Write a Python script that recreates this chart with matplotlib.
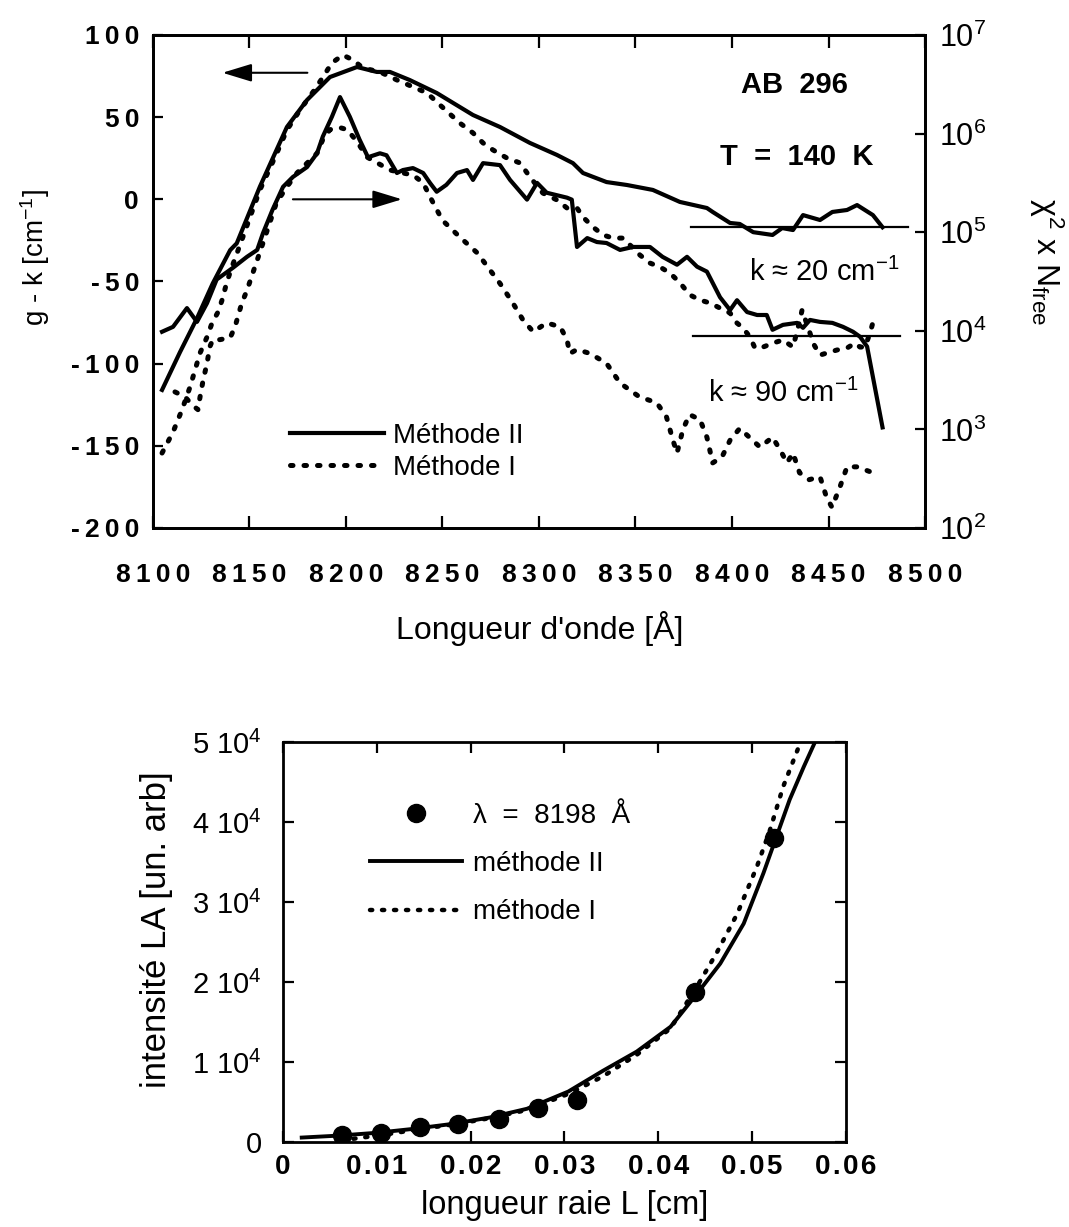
import numpy as np
import matplotlib
matplotlib.use('Agg')
import matplotlib.pyplot as plt
from matplotlib.lines import Line2D
from matplotlib.ticker import NullLocator

plt.rcParams['font.family'] = ['Liberation Sans', 'DejaVu Sans']
plt.rcParams['mathtext.fontset'] = 'custom'
plt.rcParams['mathtext.rm'] = 'Liberation Sans'
plt.rcParams['mathtext.it'] = 'Liberation Sans:italic'
plt.rcParams['mathtext.bf'] = 'Liberation Sans:bold'
plt.rcParams['mathtext.default'] = 'regular'

# %% Data, top panel: g-k (left axis) and chi2 x Nfree (right axis, log) vs wavelength
# g - k, methode II (solid)
gk2_wl = [8104.7, 8114.0, 8122.8, 8131.0, 8140.0, 8143.4, 8155.4, 8169.4, 8179.8, 8191.7, 8205.7,
          8216.0, 8222.8, 8233.0, 8247.0, 8265.8, 8279.8, 8295.3, 8309.3, 8317.6, 8322.8, 8335.0,
          8345.6, 8359.0, 8373.0, 8387.0, 8390.0, 8399.0, 8404.0, 8411.0, 8421.0, 8426.0, 8431.6,
          8436.8, 8445.6, 8452.0, 8459.6, 8464.8, 8473.0, 8478.0]
gk2_val = [-116, -93, -72.4, -51.1, -30.9, -26.8, 7.7, 44, 60.4, 74.4, 80.5,
           77.5, 77.5, 72.6, 64.7, 51.3, 44, 34.3, 27, 22, 16, 10.5,
           8.7, 5.7, -1.6, -5.3, -7.7, -14.4, -15, -20, -21.7, -17.5, -18.7,
           -9.6, -12.6, -7.7, -6.5, -3.5, -9.6, -17]

# g - k, methode I (dotted)
gk1_wl = [8104.7, 8110.4, 8115.0, 8119.2, 8124.4, 8128.0, 8130.6, 8133.7, 8135.8, 8138.3, 8140.9,
          8146.6, 8150.3, 8155.4, 8164.2, 8169.4, 8176.2, 8182.9, 8188.1, 8192.7, 8198.4, 8203.6,
          8208.8, 8217.6, 8226.4, 8234.7, 8242.0, 8248.7, 8259.0, 8265.8, 8271.0, 8276.2, 8283.4,
          8290.2, 8295.3, 8302.0, 8309.3, 8314.5, 8319.7, 8322.8, 8328.0, 8333.2, 8338.3, 8343.5,
          8348.7, 8352.3, 8357.5, 8362.7, 8367.9, 8373.1, 8378.2, 8383.4, 8388.6, 8393.8, 8399.0,
          8402.6, 8405.7, 8409.3, 8411.9, 8416.1, 8421.2, 8426.4, 8431.6, 8435.2, 8436.3, 8440.4,
          8442.0, 8445.6, 8449.2, 8454.4, 8459.6, 8463.7, 8466.3, 8468.9, 8471.5, 8474.1]
gk1_val = [-154.4, -141.6, -128.2, -114.2, -93.5, -83.8, -75.3, -68.6, -61.3, -50.3, -41.2,
           -22.9, -10.8, 5.7, 28.2, 42.2, 54.4, 65.3, 74.4, 83.0, 87.8, 84.8,
           79.9, 77.5, 72.6, 68.4, 64.7, 57.4, 46.4, 40.4, 34.3, 30.0, 25.1,
           22.1, 13.6, 3.8, -0.4, -5.3, -5.3, -10.8, -16.9, -21.7, -23.6, -23.6,
           -29.6, -33.9, -38.8, -41.2, -44.9, -50.9, -58.2, -61.3, -63.1, -66.2, -69.2,
           -75.3, -78.3, -83.8, -90.5, -89.9, -87.5, -85.6, -89.9, -73.5, -67.4, -81.4,
           -87.5, -94.8, -93.5, -91.7, -90.5, -87.5, -89.9, -89.9, -81.4, -70.4]

# chi2 x Nfree, methode II (solid) - read as log10 values
chi2_wl = [8104.7, 8110.4, 8117.6, 8122.8, 8128.0, 8133.0, 8141.5, 8148.7, 8154.0, 8157.0, 8162.0,
           8167.4, 8172.5, 8179.8, 8185.0, 8188.0, 8192.7, 8196.9, 8202.0, 8207.0, 8211.4, 8217.6,
           8221.0, 8226.4, 8229.5, 8234.7, 8240.0, 8243.5, 8247.0, 8252.0, 8257.5, 8262.7, 8265.8,
           8271.0, 8279.8, 8285.0, 8293.8, 8299.0, 8304.0, 8314.5, 8317.0, 8319.7, 8325.0, 8330.0,
           8335.0, 8342.0, 8348.7, 8357.5, 8364.0, 8371.5, 8376.7, 8381.9, 8387.0, 8393.8, 8399.0,
           8402.6, 8407.8, 8413.0, 8418.0, 8421.0, 8426.4, 8433.7, 8436.8, 8440.4, 8445.6, 8452.0,
           8457.5, 8462.7, 8466.3, 8470.0, 8478.0]
chi2_exp = [3.99, 4.04, 4.23, 4.09, 4.28, 4.52, 4.64, 4.75, 4.82, 4.99, 5.23,
            5.46, 5.56, 5.66, 5.80, 5.97, 6.17, 6.37, 6.17, 5.94, 5.76, 5.80,
            5.78, 5.60, 5.63, 5.65, 5.60, 5.50, 5.41, 5.48, 5.60, 5.63, 5.53,
            5.70, 5.68, 5.53, 5.33, 5.50, 5.40, 5.35, 5.33, 4.85, 4.94, 4.90,
            4.89, 4.82, 4.85, 4.85, 4.75, 4.67, 4.75, 4.65, 4.60, 4.34, 4.21,
            4.31, 4.19, 4.16, 4.16, 4.01, 4.06, 4.08, 4.03, 4.11, 4.09, 4.08,
            4.04, 3.99, 3.94, 3.84, 3.02]

# chi2 x Nfree, methode I (dotted)
chi1_wl = [8111.4, 8116.6, 8120.2, 8123.3, 8124.4, 8126.0, 8128.0, 8129.5, 8131.0, 8134.7, 8140.0,
           8142.5, 8146.0, 8148.7, 8151.8, 8157.0, 8164.0, 8169.4, 8174.6, 8179.8, 8185.0, 8188.0,
           8191.7, 8197.0, 8200.5, 8203.6, 8207.0, 8211.0, 8222.8, 8229.5, 8234.7, 8240.0, 8243.5,
           8247.0, 8250.0, 8259.0, 8268.0, 8279.8, 8286.5, 8291.7, 8297.0, 8304.0, 8311.0, 8314.5,
           8316.0, 8319.7, 8326.4, 8335.0, 8342.0, 8352.0, 8361.0, 8366.0, 8369.4, 8371.5, 8374.6,
           8378.0, 8383.4, 8387.0, 8390.0, 8394.8, 8399.0, 8404.0, 8409.0, 8414.5, 8421.0, 8425.0,
           8428.5, 8431.6, 8435.0, 8440.0, 8445.6, 8449.0, 8451.8, 8456.0, 8459.6, 8464.8, 8473.0]
chi1_exp = [3.38, 3.33, 3.25, 3.20, 3.33, 3.50, 3.67, 3.84, 3.91, 3.91, 3.93,
            4.04, 4.28, 4.41, 4.59, 4.89, 5.30, 5.46, 5.60, 5.70, 5.80, 5.94,
            6.04, 6.06, 6.04, 5.97, 5.88, 5.76, 5.63, 5.60, 5.58, 5.50, 5.36,
            5.23, 5.12, 4.95, 4.79, 4.48, 4.28, 4.11, 3.99, 4.08, 4.04, 3.91,
            3.77, 3.81, 3.77, 3.67, 3.47, 3.33, 3.27, 3.13, 2.89, 2.76, 3.00,
            3.15, 3.10, 2.92, 2.66, 2.72, 2.89, 3.01, 2.92, 2.82, 2.92, 2.79,
            2.66, 2.76, 2.56, 2.49, 2.52, 2.31, 2.21, 2.42, 2.62, 2.62, 2.56]

# reference levels (g - k) for k ~ 20 and k ~ 90 cm-1
klevel_val = [-17, -83]
klevel_start = [8379, 8380]
klevel_end = [8491, 8487]
klevel_text = ['k \u2248 20 cm$^{-1}$', 'k \u2248 90 cm$^{-1}$']

# %% Data, bottom panel: LA intensity vs line length
L_pts = [0.0063, 0.0105, 0.0146, 0.0187, 0.0230, 0.0272, 0.0313, 0.0439, 0.0523]
I_pts = [880, 1080, 1830, 2250, 2880, 4300, 5250, 18800, 38000]

L_m2 = [0.0020, 0.0060, 0.0100, 0.0140, 0.0180, 0.0220, 0.0260, 0.0304, 0.0341, 0.0377,
        0.0413, 0.0439, 0.0466, 0.0491, 0.0512, 0.0526, 0.0540, 0.0555, 0.0567]
I_m2 = [550, 800, 1150, 1650, 2250, 3050, 4150, 6300, 8900, 11300,
        14400, 18200, 22300, 27300, 33600, 38200, 42800, 46900, 50000]

L_m1 = [0.0075, 0.0110, 0.0148, 0.0185, 0.0219, 0.0260, 0.0306, 0.0341, 0.0377, 0.0413,
        0.0441, 0.0462, 0.0484, 0.0505, 0.0519, 0.0533, 0.0549]
I_m1 = [400, 950, 1650, 2250, 2950, 4000, 6100, 8200, 10900, 14200,
        19400, 23600, 28500, 34400, 39000, 44400, 49200]

THIN = '\u2009'
HAIR = '\u200a'
DOT = (0, (0.5, 2.2))

def spaced(s, sep=THIN):
    return sep.join(s)

# %% Figure
fig = plt.figure(figsize=(10.69, 12.27), dpi=100)

# ---- top panel
ax1 = fig.add_axes([0.1431, 0.5697, 0.7222, 0.4018])
ax1r = ax1.twinx()

ax1.plot(gk2_wl, gk2_val, c='black', lw=3, solid_joinstyle='round')
ax1.plot(gk1_wl, gk1_val, c='black', lw=3.6, ls=DOT, dash_capstyle='round')
ax1r.plot(chi2_wl, 10.0 ** np.array(chi2_exp), c='black', lw=3, solid_joinstyle='round')
ax1r.plot(chi1_wl, 10.0 ** np.array(chi1_exp), c='black', lw=3.6, ls=DOT, dash_capstyle='round')

for v, a, b in zip(klevel_val, klevel_start, klevel_end):
    ax1.plot([a, b], [v, v], c='black', lw=1.6)

ax1.set_xlim(8100, 8500)
ax1.set_ylim(-200, 100)
ax1r.set_yscale('log')
ax1r.set_ylim(1e2, 1e7)

xt = list(range(8100, 8501, 50))
ax1.set_xticks(xt)
ax1.set_xticklabels([spaced(str(v)) for v in xt], fontsize=19, fontweight='bold')
yt = list(range(-200, 101, 50))
ax1.set_yticks(yt)
ax1.set_yticklabels([('-' + THIN if v < 0 else '') + spaced(str(abs(v))) for v in yt],
                    fontsize=19, fontweight='bold')
rt = [10.0 ** k for k in range(2, 8)]
ax1r.set_yticks(rt)
ax1r.set_yticklabels([r'$10^{%d}$' % k for k in range(2, 8)], fontsize=22)
ax1r.yaxis.set_minor_locator(NullLocator())

ax1.tick_params(axis='x', direction='in', top=True, length=9, width=1.6, pad=25)
ax1.tick_params(axis='y', direction='in', length=7, width=1.6, pad=10)
ax1r.tick_params(axis='y', direction='in', length=7, width=1.6, pad=10)
for sp in ax1.spines.values():
    sp.set_linewidth(2)
for sp in ax1r.spines.values():
    sp.set_linewidth(2)

ax1.set_xlabel("Longueur d'onde [\u00c5]", fontsize=23)
ax1.xaxis.set_label_coords(0.501, -0.203)
ax1.xaxis.label.set_va('center')
ax1.set_ylabel('g - k [cm$^{-1}$]', fontsize=20)
ax1.yaxis.set_label_coords(-0.153, 0.548)
ax1.yaxis.label.set_va('center')
ax1r.set_ylabel('\u03c7$^{2}$ x N$_{free}$', fontsize=23, rotation=270)
ax1r.yaxis.set_label_coords(1.157, 0.54)
ax1r.yaxis.label.set_va('center')

# arrows showing which axis each pair of curves uses
ax1.annotate('', xy=(8136, 77), xytext=(8180, 77),
             arrowprops=dict(arrowstyle='-|>,head_length=1.8,head_width=0.55',
                             color='black', lw=1.5, shrinkA=0, shrinkB=0))
ax1.annotate('', xy=(8229, 0), xytext=(8172.5, 0),
             arrowprops=dict(arrowstyle='-|>,head_length=1.8,head_width=0.55',
                             color='black', lw=1.5, shrinkA=0, shrinkB=0))

ax1.text(8432.6, 69.6, 'AB  296', fontsize=21, fontweight='bold', ha='center', va='center')
ax1.text(8433.7, 25.7, 'T  =  140  K', fontsize=21, fontweight='bold', ha='center', va='center')
ax1.text(8448, -44.2, klevel_text[0], fontsize=21, ha='center', va='center')
ax1.text(8426.4, -117.9, klevel_text[1], fontsize=21, ha='center', va='center')

h_top = [Line2D([], [], c='black', lw=3),
         Line2D([], [], c='black', lw=3.6, ls=DOT, dash_capstyle='round')]
ax1r.legend(h_top, ['M\u00e9thode II', 'M\u00e9thode I'], loc='upper left',
            bbox_to_anchor=(0.1775, 0.213), frameon=False, fontsize=20,
            borderpad=0, borderaxespad=0, handlelength=3.4, handletextpad=0.3,
            labelspacing=0.2)

# ---- bottom panel
ax2 = fig.add_axes([0.2647, 0.0693, 0.5267, 0.326])
ax2.plot(L_pts, I_pts, 'o', c='black', ms=13, label='\u03bb  =  8198  \u00c5')
ax2.plot(L_m2, I_m2, c='black', lw=2.8, label='m\u00e9thode II')
ax2.plot(L_m1, I_m1, c='black', lw=3.2, ls=DOT, dash_capstyle='round', label='m\u00e9thode I')

ax2.set_xlim(0, 0.06)
ax2.set_ylim(0, 50000)
bx = [0, 0.01, 0.02, 0.03, 0.04, 0.05, 0.06]
ax2.set_xticks(bx)
ax2.set_xticklabels(['0'] + [spaced('%.2f' % v, HAIR) for v in bx[1:]], fontsize=20, fontweight='bold')
by = [0, 10000, 20000, 30000, 40000, 50000]
ax2.set_yticks(by)
ax2.set_yticklabels(['0'] + [r'%d $10^{4}$' % (v // 10000) for v in by[1:]], fontsize=21)
ax2.tick_params(axis='x', direction='in', top=True, length=8, width=1.6, pad=9)
ax2.tick_params(axis='y', direction='in', right=True, length=8, width=1.6, pad=15)
for sp in ax2.spines.values():
    sp.set_linewidth(2)

ax2.set_xlabel('longueur raie L [cm]', fontsize=23.5)
ax2.xaxis.set_label_coords(0.5, -0.158)
ax2.xaxis.label.set_va('center')
ax2.set_ylabel('intensit\u00e9 LA [un. arb]', fontsize=25)
ax2.yaxis.set_label_coords(-0.225, 0.53)
ax2.yaxis.label.set_va('center')

ax2.legend(loc='upper left', bbox_to_anchor=(0.1545, 0.8475), frameon=False, fontsize=20,
           borderpad=0, borderaxespad=0, handlelength=3.3, handletextpad=0.4,
           labelspacing=0.8, numpoints=1)

plt.savefig('out.png', dpi=100)
